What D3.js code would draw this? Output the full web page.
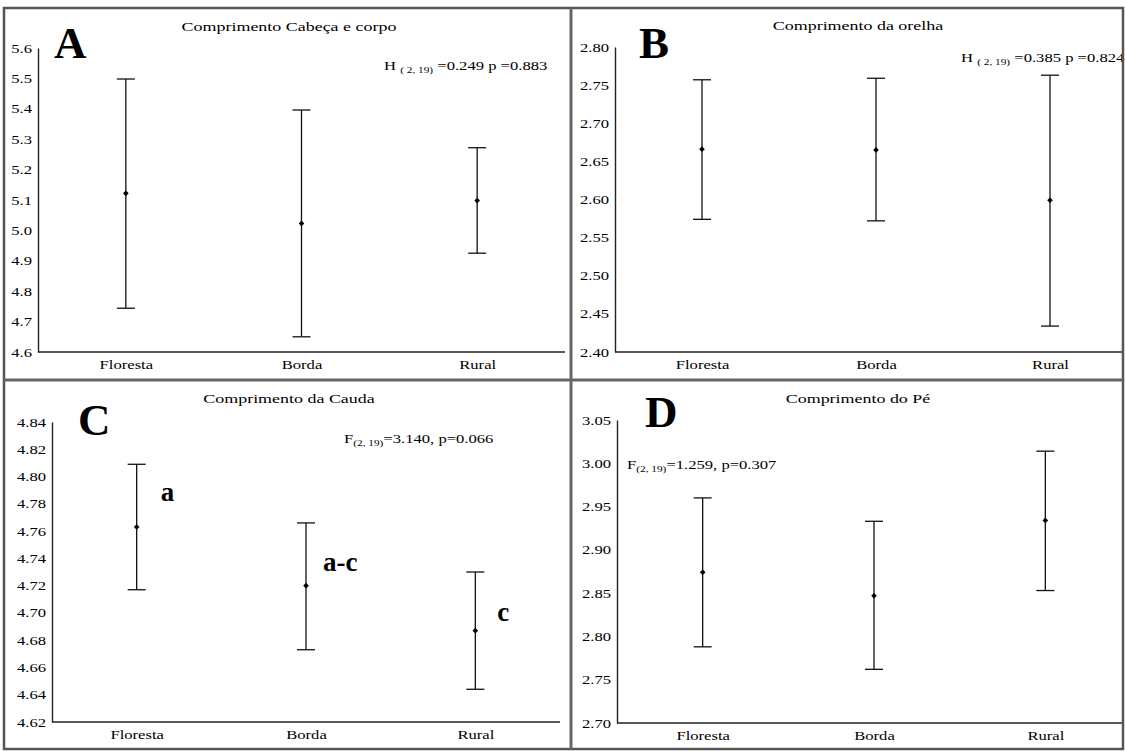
<!DOCTYPE html>
<html>
<head>
<meta charset="utf-8">
<script src="https://cdn.jsdelivr.net/npm/d3@7"></script>
<style>
body { margin: 0; background: #fff; }
svg text { font-family: "Liberation Serif", Tinos, "Times New Roman", "Nimbus Roman", "DejaVu Serif", serif !important; fill: #000; }
</style>
</head>
<body>
<svg id="chart"></svg>
<script>
var width = 1125;
var height = 751;

var categories = ["Floresta", "Borda", "Rural"];

// A - Comprimento Cabeça e corpo
var meanA  = [5.122, 5.023, 5.098];
var upperA = [5.498, 5.396, 5.272];
var lowerA = [4.744, 4.650, 4.925];
var ticksA = [4.6, 4.7, 4.8, 4.9, 5.0, 5.1, 5.2, 5.3, 5.4, 5.5, 5.6];

// B - Comprimento da orelha
var meanB  = [2.666, 2.665, 2.599];
var upperB = [2.757, 2.759, 2.763];
var lowerB = [2.574, 2.572, 2.434];
var ticksB = [2.40, 2.45, 2.50, 2.55, 2.60, 2.65, 2.70, 2.75, 2.80];

// C - Comprimento da Cauda
var meanC  = [4.763, 4.720, 4.687];
var upperC = [4.809, 4.766, 4.730];
var lowerC = [4.717, 4.673, 4.644];
var ticksC = [4.62, 4.64, 4.66, 4.68, 4.70, 4.72, 4.74, 4.76, 4.78, 4.80, 4.82, 4.84];
var groupsC = ["a", "a-c", "c"];

// D - Comprimento do Pé
var meanD  = [2.874, 2.847, 2.934];
var upperD = [2.960, 2.933, 3.014];
var lowerD = [2.788, 2.762, 2.853];
var ticksD = [2.70, 2.75, 2.80, 2.85, 2.90, 2.95, 3.00, 3.05];

var titles = ["Comprimento Cabeça e corpo", "Comprimento da orelha", "Comprimento da Cauda", "Comprimento do Pé"];
var letters = ["A", "B", "C", "D"];
var statHead = ["H ", "H ", "F", "F"];
var statSub = ["( 2, 19)", "( 2, 19)", "(2, 19)", "(2, 19)"];
var statTail = [" =0.249 p =0.883", " =0.385 p =0.824", "=3.140, p=0.066", "=1.259, p=0.307"];

// the source figure is stretched sideways, so the text is too
var SX = 1.33;
var serif = "'Liberation Serif', Tinos, 'Times New Roman', 'Nimbus Roman', 'DejaVu Serif', serif";

var svg = d3.select("#chart")
    .attr("width", width)
    .attr("height", height);

// where each of the four panels sits
var layout = [
    {axisX: 38,  top: 48,  bottom: 352, xEnd: 565,  xRight: 565,  title: [289, 31],  letter: [54, 58],   stats: [384, 70],  fmt: ".1f"},
    {axisX: 615, top: 47,  bottom: 352, xEnd: 1123, xRight: 1137, title: [858, 30],  letter: [639, 58],  stats: [961, 62],  fmt: ".2f"},
    {axisX: 52,  top: 422, bottom: 722, xEnd: 560,  xRight: 560,  title: [289, 403], letter: [78, 435],  stats: [344, 443], fmt: ".2f"},
    {axisX: 617, top: 420, bottom: 723, xEnd: 1123, xRight: 1131, title: [858, 403], letter: [645, 427], stats: [627, 469], fmt: ".2f"}
];
var means = [meanA, meanB, meanC, meanD];
var uppers = [upperA, upperB, upperC, upperD];
var lowers = [lowerA, lowerB, lowerC, lowerD];
var ticks = [ticksA, ticksB, ticksC, ticksD];

layout.forEach(function(p, i) {
    var g = svg.append("g").attr("font-family", serif);

    var x = d3.scalePoint()
        .domain(categories)
        .range([p.axisX, p.xRight])
        .padding(0.5);
    var tk = ticks[i];
    var y = d3.scaleLinear()
        .domain([tk[0], tk[tk.length - 1]])
        .range([p.bottom, p.top]);

    // y axis, line and labels
    var ya = g.append("g")
        .attr("transform", "translate(" + p.axisX + ",0)")
        .call(d3.axisLeft(y).tickValues(tk).tickFormat(d3.format(p.fmt))
            .tickSize(0).tickSizeOuter(0).tickPadding(4.5));
    ya.attr("font-family", serif);
    ya.select(".domain").attr("stroke", "#222").attr("stroke-width", 1.4);
    ya.selectAll("text")
        .attr("font-size", 12.5)
        .attr("fill", "#000")
        .attr("transform", "scale(" + SX + ",1)");

    // x axis: line to the panel edge, labels from the axis generator
    g.append("line")
        .attr("x1", p.axisX).attr("x2", p.xEnd)
        .attr("y1", p.bottom).attr("y2", p.bottom)
        .attr("stroke", "#222").attr("stroke-width", 1.4);
    var xa = g.append("g")
        .attr("transform", "translate(0," + p.bottom + ")")
        .call(d3.axisBottom(x).tickSize(0).tickPadding(8));
    xa.attr("font-family", serif);
    xa.select(".domain").remove();
    xa.selectAll("text")
        .attr("font-size", 12.5)
        .attr("fill", "#000")
        .attr("transform", "scale(" + SX + ",1)");

    // error bars
    var bars = g.selectAll(".bar")
        .data(categories)
        .enter().append("g")
        .attr("class", "bar");
    bars.append("line")
        .attr("x1", function(d) { return x(d); })
        .attr("x2", function(d) { return x(d); })
        .attr("y1", function(d, j) { return y(uppers[i][j]); })
        .attr("y2", function(d, j) { return y(lowers[i][j]); })
        .attr("stroke", "#111").attr("stroke-width", 1.3);
    bars.append("line")
        .attr("x1", function(d) { return x(d) - 9; })
        .attr("x2", function(d) { return x(d) + 9; })
        .attr("y1", function(d, j) { return y(uppers[i][j]); })
        .attr("y2", function(d, j) { return y(uppers[i][j]); })
        .attr("stroke", "#111").attr("stroke-width", 1.3);
    bars.append("line")
        .attr("x1", function(d) { return x(d) - 9; })
        .attr("x2", function(d) { return x(d) + 9; })
        .attr("y1", function(d, j) { return y(lowers[i][j]); })
        .attr("y2", function(d, j) { return y(lowers[i][j]); })
        .attr("stroke", "#111").attr("stroke-width", 1.3);
    bars.append("path")
        .attr("d", d3.symbol().type(d3.symbolSquare).size(16))
        .attr("transform", function(d, j) {
            return "translate(" + x(d) + "," + y(means[i][j]) + ") rotate(45)";
        })
        .attr("fill", "#000");

    // title
    g.append("text")
        .attr("transform", "translate(" + p.title[0] + "," + p.title[1] + ") scale(" + SX + ",1)")
        .attr("text-anchor", "middle")
        .attr("font-size", 13.5)
        .text(titles[i]);

    // panel letter
    g.append("text")
        .attr("x", p.letter[0]).attr("y", p.letter[1])
        .attr("font-size", 45)
        .attr("font-weight", "bold")
        .text(letters[i]);

    // test statistic
    var st = g.append("text")
        .attr("transform", "translate(" + p.stats[0] + "," + p.stats[1] + ") scale(" + SX + ",1)")
        .attr("font-size", 12.5);
    st.append("tspan").text(statHead[i]);
    st.append("tspan").attr("font-size", 8.5).attr("dy", 3).text(statSub[i]);
    st.append("tspan").attr("dy", -3).text(statTail[i]);

    // group letters in panel C
    if (i === 2) {
        var off = [[24, -26], [17, -15], [22, -10]];
        g.selectAll(".grp")
            .data(groupsC)
            .enter().append("text")
            .attr("class", "grp")
            .attr("x", function(d, j) { return x(categories[j]) + off[j][0]; })
            .attr("y", function(d, j) { return y(meanC[j]) + off[j][1]; })
            .attr("font-size", 27)
            .attr("font-weight", "bold")
            .text(function(d) { return d; });
    }
});

// panel frames
svg.append("rect")
    .attr("x", 4).attr("y", 8)
    .attr("width", 1119).attr("height", 741)
    .attr("fill", "none")
    .attr("stroke", "#555").attr("stroke-width", 2.5);
svg.append("line")
    .attr("x1", 571).attr("x2", 571).attr("y1", 8).attr("y2", 749)
    .attr("stroke", "#666").attr("stroke-width", 3);
svg.append("line")
    .attr("x1", 4).attr("x2", 1123).attr("y1", 380).attr("y2", 380)
    .attr("stroke", "#666").attr("stroke-width", 3);
</script>
</body>
</html>
